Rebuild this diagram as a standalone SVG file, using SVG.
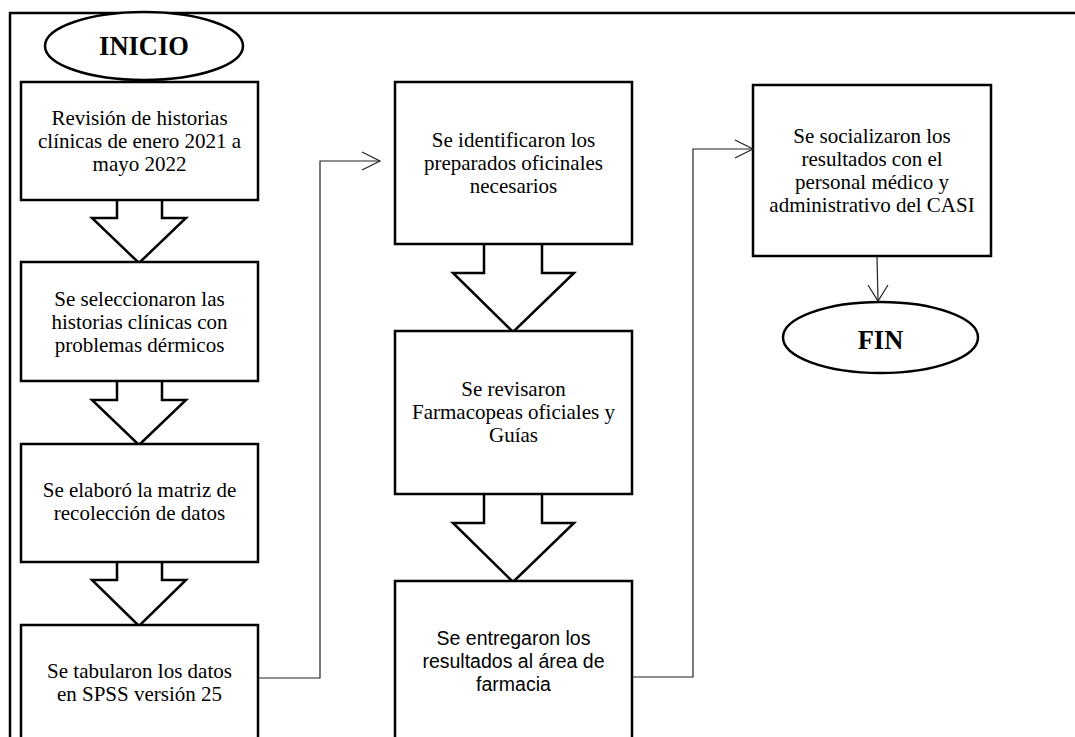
<svg xmlns="http://www.w3.org/2000/svg" width="1075" height="737" viewBox="0 0 1075 737">
<style>
.box{fill:#fff;stroke:#000;stroke-width:2.5}
.barrow{fill:#fff;stroke:#000;stroke-width:2.5;stroke-linejoin:miter}
.term{fill:#fff;stroke:#000;stroke-width:2.5}
.t{font-family:"Liberation Serif","Times New Roman",serif;font-size:21px;fill:#000;text-anchor:middle}
.s{font-family:"Liberation Sans",Arial,sans-serif;font-size:19.5px;fill:#000;text-anchor:middle}
.b{font-family:"Liberation Serif","Times New Roman",serif;font-size:26.5px;font-weight:bold;fill:#000;text-anchor:middle}
.con{fill:none;stroke:#222;stroke-width:1.2}
.frame{fill:none;stroke:#000;stroke-width:2.5}
</style>
<rect width="1075" height="737" fill="#fff"/>
<path class="frame" d="M10,737 V13 H1075"/>

<g id="arrows">
<path class="barrow" d="M117,199 V218 H92 L139,263 L186,218 H162 V199"/>
<path class="barrow" d="M117,380 V400 H92 L139,445 L186,400 H162 V380"/>
<path class="barrow" d="M117,561 V580 H92 L139,626 L186,580 H162 V561"/>
<path class="barrow" d="M484,243 V273 H453 L513,332 L574,273 H542 V243"/>
<path class="barrow" d="M484,493 V523 H453 L513,582 L574,523 H542 V493"/>
</g>

<g id="inicio">
<ellipse class="term" cx="144" cy="46" rx="99" ry="34"/>
<text class="b" x="144" y="55">INICIO</text>
</g>

<g id="n1">
<rect class="box" x="21" y="82" width="237" height="118"/>
<text class="t" x="139.5" y="125">Revisión de historias</text>
<text class="t" x="139.5" y="148">clínicas de enero 2021 a</text>
<text class="t" x="139.5" y="171">mayo 2022</text>
</g>

<g id="n2">
<rect class="box" x="21" y="262" width="237" height="119"/>
<text class="t" x="139.5" y="306">Se seleccionaron las</text>
<text class="t" x="139.5" y="329">historias clínicas con</text>
<text class="t" x="139.5" y="352">problemas dérmicos</text>
</g>

<g id="n3">
<rect class="box" x="21" y="444" width="237" height="118"/>
<text class="t" x="139.5" y="497">Se elaboró la matriz de</text>
<text class="t" x="139.5" y="520">recolección de datos</text>
</g>

<g id="n4">
<rect class="box" x="21" y="625" width="237" height="130"/>
<text class="t" x="139.5" y="678">Se tabularon los datos</text>
<text class="t" x="139.5" y="701">en SPSS versión 25</text>
</g>

<g id="n5">
<rect class="box" x="395" y="82" width="237" height="162"/>
<text class="t" x="513.5" y="147">Se identificaron los</text>
<text class="t" x="513.5" y="170">preparados oficinales</text>
<text class="t" x="513.5" y="193">necesarios</text>
</g>

<g id="n6">
<rect class="box" x="395" y="331" width="237" height="163"/>
<text class="t" x="513.5" y="396">Se revisaron</text>
<text class="t" x="513.5" y="419">Farmacopeas oficiales y</text>
<text class="t" x="513.5" y="442">Guías</text>
</g>

<g id="n7">
<rect class="box" x="395" y="581" width="237" height="180"/>
<text class="s" x="513.5" y="645">Se entregaron los</text>
<text class="s" x="513.5" y="668">resultados al área de</text>
<text class="s" x="513.5" y="691">farmacia</text>
</g>

<g id="n8">
<rect class="box" x="753" y="85" width="238" height="171"/>
<text class="t" x="872" y="143">Se socializaron los</text>
<text class="t" x="872" y="166">resultados con el</text>
<text class="t" x="872" y="189">personal médico y</text>
<text class="t" x="872" y="212">administrativo del CASI</text>
</g>

<g id="fin">
<ellipse class="term" cx="880.5" cy="337.5" rx="97.5" ry="35.5"/>
<text class="b" x="880.5" y="349">FIN</text>
</g>

<g id="connectors">
<path class="con" d="M258,678 H320 V161 H380"/>
<path class="con" d="M362,152 L380,161 L362,170"/>
<path class="con" d="M632,677 H693 V149 H753"/>
<path class="con" d="M735,140 L753,149 L735,158"/>
<path class="con" d="M877,257 L878,301"/>
<path class="con" d="M868,285 L878,301 L888,285"/>
</g>
</svg>
